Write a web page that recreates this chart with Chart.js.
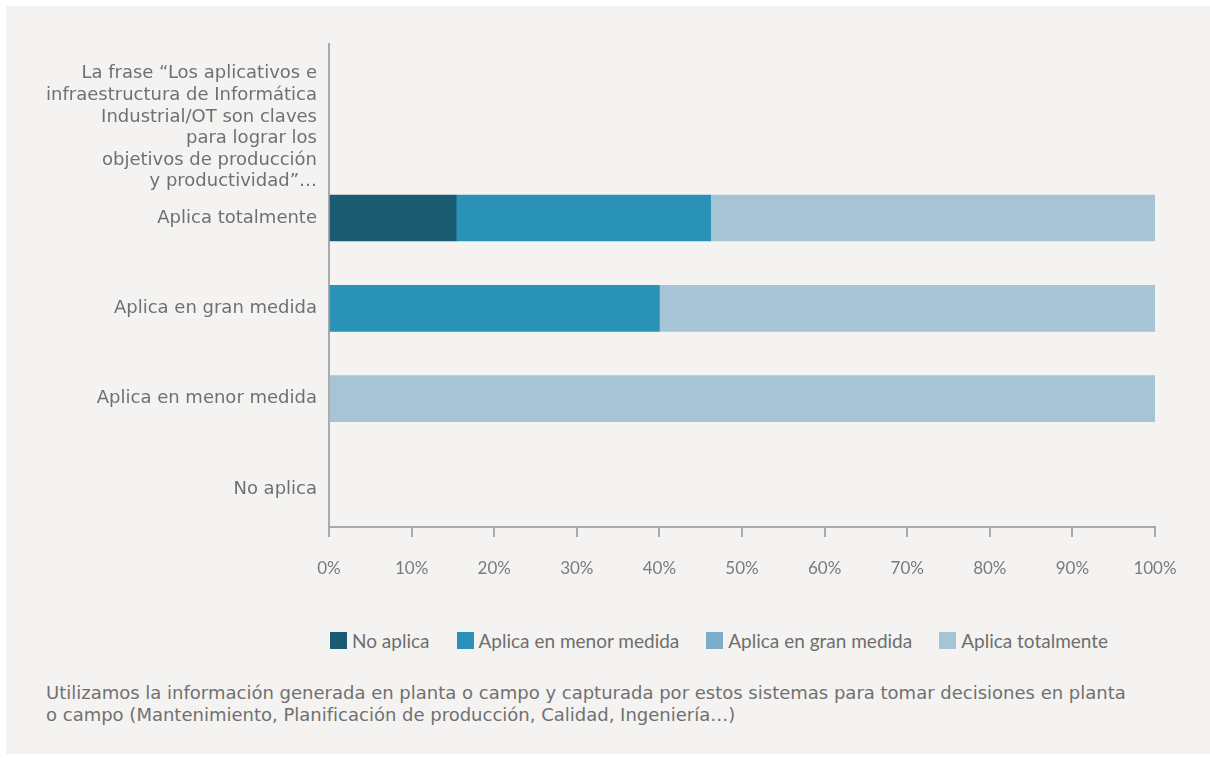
<!DOCTYPE html>
<html lang="es">
<head>
    <meta charset="UTF-8">
    <title>Aplicativos OT</title>
    <script src="https://cdn.jsdelivr.net/npm/chart.js"></script>
    <style>
        body { margin: 0; background: #ffffff; }
        .panel {
            position: absolute; left: 6px; top: 6px;
            width: 1204px; height: 748px;
            background: #f4f3f1;
        }
        #chart { position: absolute; left: 0; top: 0; }
        .legend {
            position: absolute; left: 324px; top: 623px;
            display: flex; align-items: center;
            font-family: Lato, "Open Sans", sans-serif; font-size: 19px; color: #6e6e6e;
        }
        .legend-item { display: flex; align-items: center; margin-right: 27px; }
        .legend-box { width: 17px; height: 17px; margin-right: 5px; }
        .note {
            position: absolute; left: 40px; top: 676px;
            font-family: "DejaVu Sans", sans-serif; font-size: 18px; line-height: 22px;
            color: #707070;
        }
    </style>
</head>
<body>
<div class="panel">
    <canvas id="chart" width="1204" height="580"></canvas>
    <div class="legend" id="legend"></div>
    <div class="note">Utilizamos la información generada en planta o campo y capturada por estos sistemas para tomar decisiones en planta<br>o campo (Mantenimiento, Planificación de producción, Calidad, Ingeniería…)</div>
</div>

<script>
    // Категории по оси Y (первая — заголовок вопроса, без столбца)
    const categories = [
        ['La frase \u201cLos aplicativos e', 'infraestructura de Informática', 'Industrial/OT son claves', 'para lograr los', 'objetivos de producción', 'y productividad\u201d…'],
        'Aplica totalmente',
        'Aplica en gran medida',
        'Aplica en menor medida',
        'No aplica'
    ];

    const seriesNames = ['No aplica', 'Aplica en menor medida', 'Aplica en gran medida', 'Aplica totalmente'];
    const seriesColors = ['#1b5b72', '#2a92b6', '#7bacc8', '#a7c3d6'];

    // Значения в процентах
    const noAplica    = [null, 15.4, 0, 0, 0];
    const menorMedida = [null, 30.8, 40, 0, 0];
    const granMedida  = [null, 0, 0, 0, 0];
    const totalmente  = [null, 53.8, 60, 100, 0];

    const xTicks = [0, 10, 20, 30, 40, 50, 60, 70, 80, 90, 100];

    const seriesValues = [noAplica, menorMedida, granMedida, totalmente];

    const datasets = seriesNames.map((name, s) => ({
        label: name,
        data: seriesValues[s].map((v, i) => ({ x: v, y: i })),
        backgroundColor: seriesColors[s],
        borderWidth: 0,
        // нулевые сегменты не раздуваем, чтобы не было тонких черточек
        inflateAmount: (ctx) => (ctx.raw && ctx.raw.x ? 0.33 : 0),
        barThickness: 46
    }));

    const axisColor = '#aaaaaa';

    const chart = new Chart(document.getElementById('chart'), {
        type: 'bar',
        data: { datasets: datasets },
        options: {
            indexAxis: 'y',
            responsive: false,
            animation: false,
            devicePixelRatio: 1,
            layout: { padding: { top: 38, right: 55, left: 0, bottom: 0 } },
            plugins: {
                legend: { display: false },
                tooltip: { enabled: false }
            },
            scales: {
                x: {
                    type: 'linear',
                    stacked: true,
                    min: 0,
                    max: 100,
                    afterBuildTicks: (scale) => { scale.ticks = xTicks.map(v => ({ value: v })); },
                    afterFit: (scale) => {
                        scale.height = 59;
                        scale.paddingLeft = 0;
                        scale.paddingRight = 0;
                    },
                    ticks: {
                        callback: (v) => v + '%',
                        color: '#7a7a7a',
                        font: { family: 'Lato', size: 17 },
                        padding: 21,
                        maxRotation: 0
                    },
                    grid: {
                        drawOnChartArea: false,
                        drawTicks: true,
                        tickLength: 10,
                        color: axisColor,
                        lineWidth: 2
                    },
                    border: { display: true, color: axisColor, width: 2 }
                },
                y: {
                    type: 'linear',
                    stacked: true,
                    reverse: true,
                    offset: false,
                    min: -0.926,
                    max: 4.421,
                    afterBuildTicks: (scale) => { scale.ticks = categories.map((c, i) => ({ value: i })); },
                    afterFit: (scale) => {
                        scale.width = 323;
                        scale.paddingTop = 0;
                        scale.paddingBottom = 0;
                    },
                    ticks: {
                        autoSkip: false,
                        callback: (v, i) => categories[i],
                        color: '#707070',
                        font: { family: 'DejaVu Sans', size: 18, lineHeight: 1.2 },
                        padding: 12
                    },
                    grid: { display: false, drawTicks: false },
                    border: { display: true, color: axisColor, width: 2 }
                }
            }
        }
    });

    // Легенда в HTML, чтобы поставить её под областью графика
    const legend = document.getElementById('legend');
    chart.data.datasets.forEach(ds => {
        const item = document.createElement('div');
        item.className = 'legend-item';
        const box = document.createElement('span');
        box.className = 'legend-box';
        box.style.background = ds.backgroundColor;
        const text = document.createElement('span');
        text.textContent = ds.label;
        item.appendChild(box);
        item.appendChild(text);
        legend.appendChild(item);
    });
</script>
</body>
</html>
